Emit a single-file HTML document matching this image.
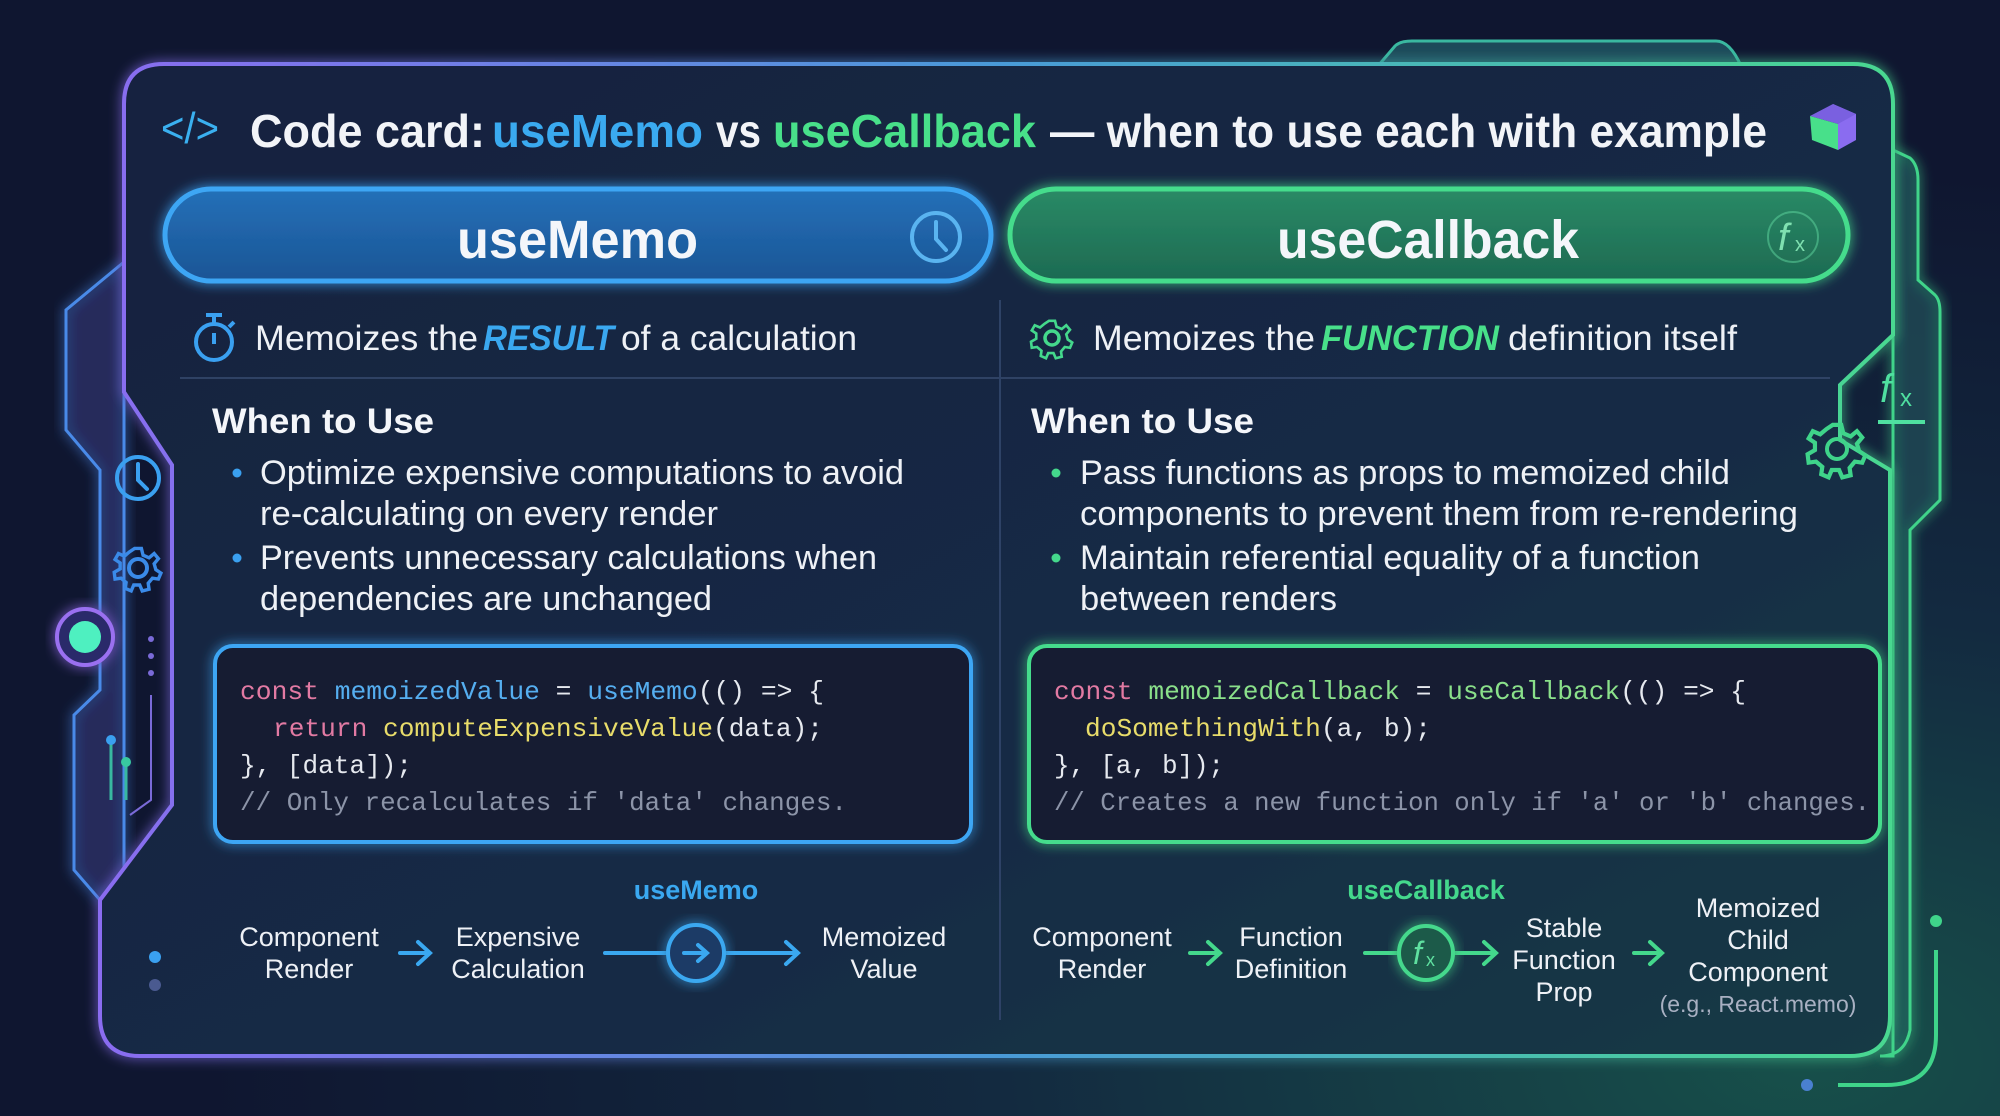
<!DOCTYPE html>
<html><head><meta charset="utf-8"><style>
html,body{margin:0;padding:0;background:#0f1630;}
svg{display:block}
text{font-family:"Liberation Sans",sans-serif;}
.m{font-family:"Liberation Mono",monospace;font-size:26px;}
</style></head><body>
<svg width="2000" height="1116" viewBox="0 0 2000 1116" xmlns="http://www.w3.org/2000/svg">
<defs>
<radialGradient id="bg1" cx="0.9" cy="0.95" r="0.8">
<stop offset="0" stop-color="#17504a"/><stop offset="0.5" stop-color="#132a40"/><stop offset="1" stop-color="#0f1630"/>
</radialGradient>
<linearGradient id="card" x1="0" y1="0" x2="1" y2="1">
<stop offset="0" stop-color="#18223f"/><stop offset="0.6" stop-color="#172a45"/><stop offset="1" stop-color="#163a45"/>
</linearGradient>
<linearGradient id="cardstroke" x1="0" y1="0" x2="1" y2="0">
<stop offset="0" stop-color="#8a6cf0"/><stop offset="0.5" stop-color="#4a9ad8"/><stop offset="1" stop-color="#48d890"/>
</linearGradient>
<linearGradient id="pb" x1="0" y1="0" x2="0" y2="1"><stop offset="0" stop-color="#2470b8"/><stop offset="1" stop-color="#1b5595"/></linearGradient>
<linearGradient id="pg" x1="0" y1="0" x2="0" y2="1"><stop offset="0" stop-color="#2a8a66"/><stop offset="1" stop-color="#1d6a52"/></linearGradient>
<filter id="glow" x="-20%" y="-20%" width="140%" height="140%"><feGaussianBlur stdDeviation="6" result="b"/><feMerge><feMergeNode in="b"/><feMergeNode in="SourceGraphic"/></feMerge></filter>
</defs>
<rect width="2000" height="1116" fill="url(#bg1)"/>

<!-- top tab -->
<path d="M1378,66 L1395,46 Q1400,41 1412,41 L1716,41 Q1730,41 1741,66 Z" fill="#1d4a5a" stroke="#3ab8a0" stroke-width="3"/>

<!-- left outer panel -->
<path d="M124,262 L66,310 L66,430 L100,470 L100,690 L74,715 L74,870 L100,900 L124,880 L124,262 Z" fill="#2a2d66" fill-opacity="0.55" stroke="#4a8ae8" stroke-width="3" filter="url(#glow)"/>
<!-- right outer panel -->
<path d="M1893,150 L1910,158 Q1918,165 1918,180 L1918,280 L1935,295 Q1940,300 1940,312 L1940,500 L1910,530 L1910,1030 Q1905,1056 1880,1056 L1893,1056 Z" fill="#1c4a55" fill-opacity="0.6" stroke="#3fd48a" stroke-width="3" filter="url(#glow)"/>

<!-- main card -->
<path d="M164,64 L1853,64 Q1893,64 1893,104 L1893,335 L1840,385 L1840,440 L1890,470 L1890,1016 Q1890,1056 1850,1056 L140,1056 Q100,1056 100,1016 L100,900 L172,805 L172,465 L124,392 L124,104 Q124,64 164,64 Z" fill="url(#card)" stroke="url(#cardstroke)" stroke-width="4" filter="url(#glow)"/>

<!-- left decorations -->
<circle cx="138" cy="478" r="21" fill="none" stroke="#3aa0f0" stroke-width="4"/>
<path d="M138,464 L138,480 L147,489" fill="none" stroke="#3aa0f0" stroke-width="4" stroke-linecap="round"/>
<g transform="translate(138,568)" fill="none" stroke="#3a8ae8" stroke-width="4">
<circle r="9"/><path d="M-4,-23 L4,-23 L6,-15 L13,-12 L19,-17 L24,-11 L19,-5 L21,2 L27,6 L24,13 L17,12 L12,18 L13,25 L5,27 L2,20 L-5,20 L-8,27 L-15,24 L-14,17 L-20,12 L-27,13 L-28,5 L-21,1 L-21,-6 L-27,-10 L-23,-17 L-16,-14 L-10,-19 Z" transform="scale(0.85)"/></g>
<circle cx="85" cy="637" r="28" fill="#2b2a6a" stroke="#9a70f0" stroke-width="4" filter="url(#glow)"/>
<circle cx="85" cy="637" r="16" fill="#4ef0c0"/>
<circle cx="151" cy="639" r="3" fill="#7a6ad8"/><circle cx="151" cy="656" r="3" fill="#7a6ad8"/><circle cx="151" cy="673" r="3" fill="#7a6ad8"/>
<path d="M151,695 L151,800 L130,815" fill="none" stroke="#7a6ad8" stroke-width="2"/>
<line x1="111" y1="743" x2="111" y2="800" stroke="#38b8a0" stroke-width="3"/><circle cx="111" cy="740" r="5" fill="#3aa0f0"/>
<line x1="126" y1="765" x2="126" y2="800" stroke="#38b8a0" stroke-width="3"/><circle cx="126" cy="762" r="5" fill="#38c8a0"/>
<circle cx="155" cy="957" r="6" fill="#3aa0f0"/><circle cx="155" cy="985" r="6" fill="#4a5a90"/>

<!-- right decorations -->
<text x="1880" y="402" font-size="40" font-style="italic" font-family="Liberation Serif,serif" fill="#4fe0a0">f</text>
<text x="1900" y="406" font-size="24" fill="#4fe0a0">x</text>
<line x1="1878" y1="422" x2="1925" y2="422" stroke="#4fe0a0" stroke-width="4"/>
<g transform="translate(1837,449)" fill="none" stroke="#3fd48a" stroke-width="4">
<circle r="10"/><path d="M-4,-23 L4,-23 L6,-15 L13,-12 L19,-17 L24,-11 L19,-5 L21,2 L27,6 L24,13 L17,12 L12,18 L13,25 L5,27 L2,20 L-5,20 L-8,27 L-15,24 L-14,17 L-20,12 L-27,13 L-28,5 L-21,1 L-21,-6 L-27,-10 L-23,-17 L-16,-14 L-10,-19 Z" transform="scale(1.05)"/></g>
<circle cx="1936" cy="921" r="6" fill="#3fd48a"/>
<path d="M1936,950 L1936,1035 Q1936,1085 1886,1085 L1838,1085" fill="none" stroke="#3fd48a" stroke-width="4"/>
<circle cx="1807" cy="1085" r="6" fill="#4a80d0"/>

<!-- title -->
<text x="161" y="143" font-size="44" fill="#3ab0f0" textLength="58" lengthAdjust="spacingAndGlyphs">&lt;/&gt;</text>
<text x="250" y="147" font-size="46" font-weight="bold" fill="#f2f4f8" textLength="235" lengthAdjust="spacingAndGlyphs">Code card:</text>
<text x="492" y="147" font-size="46" font-weight="bold" fill="#3aaaf0" textLength="211" lengthAdjust="spacingAndGlyphs">useMemo</text>
<text x="716" y="147" font-size="46" font-weight="bold" fill="#f2f4f8" textLength="45" lengthAdjust="spacingAndGlyphs">vs</text>
<text x="773" y="147" font-size="46" font-weight="bold" fill="#48e08a" textLength="263" lengthAdjust="spacingAndGlyphs">useCallback</text>
<text x="1050" y="147" font-size="46" font-weight="bold" fill="#f2f4f8" textLength="717" lengthAdjust="spacingAndGlyphs">— when to use each with example</text>
<!-- cube -->
<path d="M1833,104 L1856,114 L1856,140 L1838,150 L1838,124 Z" fill="#8a6cf0"/>
<path d="M1810,116 L1833,104 L1856,114 L1838,124 Z" fill="#7a60e0"/>
<path d="M1810,116 L1838,124 L1838,150 L1812,140 Z" fill="#48e08a"/>

<!-- pills -->
<rect x="165" y="189" width="826" height="92" rx="46" fill="url(#pb)" stroke="#3ea6f4" stroke-width="5" filter="url(#glow)"/>
<text x="457" y="258" font-size="54" font-weight="bold" fill="#f4f6fa" textLength="241" lengthAdjust="spacingAndGlyphs">useMemo</text>
<circle cx="936" cy="237" r="24" fill="none" stroke="#5ab4f0" stroke-width="4"/>
<path d="M936,222 L936,239 L946,250" fill="none" stroke="#5ab4f0" stroke-width="4" stroke-linecap="round"/>
<rect x="1010" y="189" width="838" height="92" rx="46" fill="url(#pg)" stroke="#44dc8c" stroke-width="5" filter="url(#glow)"/>
<text x="1277" y="258" font-size="54" font-weight="bold" fill="#f4f6fa" textLength="302" lengthAdjust="spacingAndGlyphs">useCallback</text>
<circle cx="1793" cy="237" r="25" fill="none" stroke="#5fd8a0" stroke-width="2" stroke-opacity="0.5"/>
<text x="1778" y="250" font-size="38" font-style="italic" font-family="Liberation Serif,serif" fill="#7fe0b0">f</text>
<text x="1795" y="251" font-size="20" fill="#7fe0b0">x</text>

<!-- dividers -->
<line x1="180" y1="378" x2="1830" y2="378" stroke="#3a4f74" stroke-width="2" stroke-opacity="0.7"/>
<line x1="1000" y1="300" x2="1000" y2="1020" stroke="#2e4266" stroke-width="2"/>

<!-- subtitles -->
<g fill="none" stroke="#3aa0f0" stroke-width="4">
<circle cx="214" cy="342" r="18"/><line x1="214" y1="324" x2="214" y2="316"/><line x1="206" y1="315" x2="222" y2="315"/><line x1="214" y1="333" x2="214" y2="344"/><line x1="229" y1="327" x2="234" y2="322"/></g>
<text x="255" y="350" font-size="35" fill="#eef1f6" textLength="223" lengthAdjust="spacingAndGlyphs">Memoizes the</text>
<text x="483" y="350" font-size="35" font-weight="bold" font-style="italic" fill="#3aa8f0" textLength="131" lengthAdjust="spacingAndGlyphs">RESULT</text>
<text x="621" y="350" font-size="35" fill="#eef1f6" textLength="236" lengthAdjust="spacingAndGlyphs">of a calculation</text>
<g transform="translate(1052,338)" fill="none" stroke="#44d88c" stroke-width="3.5">
<circle r="7"/><path d="M-4,-23 L4,-23 L6,-15 L13,-12 L19,-17 L24,-11 L19,-5 L21,2 L27,6 L24,13 L17,12 L12,18 L13,25 L5,27 L2,20 L-5,20 L-8,27 L-15,24 L-14,17 L-20,12 L-27,13 L-28,5 L-21,1 L-21,-6 L-27,-10 L-23,-17 L-16,-14 L-10,-19 Z" transform="scale(0.75)"/></g>
<text x="1093" y="350" font-size="35" fill="#eef1f6" textLength="222" lengthAdjust="spacingAndGlyphs">Memoizes the</text>
<text x="1321" y="350" font-size="35" font-weight="bold" font-style="italic" fill="#48e08a" textLength="178" lengthAdjust="spacingAndGlyphs">FUNCTION</text>
<text x="1508" y="350" font-size="35" fill="#eef1f6" textLength="229" lengthAdjust="spacingAndGlyphs">definition itself</text>

<!-- when to use -->
<text x="212" y="433" font-size="35" font-weight="bold" fill="#f4f6fa" textLength="222" lengthAdjust="spacingAndGlyphs">When to Use</text>
<text x="1031" y="433" font-size="35" font-weight="bold" fill="#f4f6fa" textLength="223" lengthAdjust="spacingAndGlyphs">When to Use</text>
<g font-size="34" fill="#eef1f6">
<circle cx="237" cy="473" r="4.5" fill="#3aa0f0"/><circle cx="237" cy="558" r="4.5" fill="#3aa0f0"/>
<text x="260" y="484" textLength="644" lengthAdjust="spacingAndGlyphs">Optimize expensive computations to avoid</text>
<text x="260" y="525" textLength="458" lengthAdjust="spacingAndGlyphs">re-calculating on every render</text>
<text x="260" y="569" textLength="617" lengthAdjust="spacingAndGlyphs">Prevents unnecessary calculations when</text>
<text x="260" y="610" textLength="452" lengthAdjust="spacingAndGlyphs">dependencies are unchanged</text>
<circle cx="1056" cy="473" r="4.5" fill="#44d88c"/><circle cx="1056" cy="558" r="4.5" fill="#44d88c"/>
<text x="1080" y="484" textLength="650" lengthAdjust="spacingAndGlyphs">Pass functions as props to memoized child</text>
<text x="1080" y="525" textLength="718" lengthAdjust="spacingAndGlyphs">components to prevent them from re-rendering</text>
<text x="1080" y="569" textLength="620" lengthAdjust="spacingAndGlyphs">Maintain referential equality of a function</text>
<text x="1080" y="610" textLength="257" lengthAdjust="spacingAndGlyphs">between renders</text>
</g>

<!-- code boxes -->
<rect x="215" y="646" width="756" height="196" rx="18" fill="#141b30" stroke="#3ea6f4" stroke-width="4" filter="url(#glow)"/>
<rect x="1029" y="646" width="851" height="196" rx="18" fill="#141b30" stroke="#44dc8c" stroke-width="4" filter="url(#glow)"/>
<g fill="#e6e9ef">
<text class="m" x="240" y="699" textLength="584" lengthAdjust="spacingAndGlyphs"><tspan fill="#e27aa3">const</tspan> <tspan fill="#55aef0">memoizedValue</tspan> = <tspan fill="#55aef0">useMemo</tspan>(() =&gt; {</text>
<text class="m" x="273" y="736" textLength="550" lengthAdjust="spacingAndGlyphs"><tspan fill="#e27aa3">return</tspan> <tspan fill="#e8dc6a">computeExpensiveValue</tspan>(data);</text>
<text class="m" x="240" y="773" textLength="172" lengthAdjust="spacingAndGlyphs">}, [data]);</text>
<text class="m" x="240" y="810" fill="#8c94a8" textLength="607" lengthAdjust="spacingAndGlyphs">// Only recalculates if 'data' changes.</text>
<text class="m" x="1054" y="699" textLength="692" lengthAdjust="spacingAndGlyphs"><tspan fill="#e27aa3">const</tspan> <tspan fill="#8ae08a">memoizedCallback</tspan> = <tspan fill="#8ae08a">useCallback</tspan>(() =&gt; {</text>
<text class="m" x="1085" y="736" textLength="346" lengthAdjust="spacingAndGlyphs"><tspan fill="#e8dc6a">doSomethingWith</tspan>(a, b);</text>
<text class="m" x="1054" y="773" textLength="170" lengthAdjust="spacingAndGlyphs">}, [a, b]);</text>
<text class="m" x="1054" y="810" fill="#8c94a8" textLength="816" lengthAdjust="spacingAndGlyphs">// Creates a new function only if 'a' or 'b' changes.</text>
</g>

<!-- flow -->
<g font-size="27" fill="#eef1f6" text-anchor="middle">
<text x="309" y="946">Component</text><text x="309" y="978">Render</text>
<text x="518" y="946">Expensive</text><text x="518" y="978">Calculation</text>
<text x="884" y="946">Memoized</text><text x="884" y="978">Value</text>
<text x="1102" y="946">Component</text><text x="1102" y="978">Render</text>
<text x="1291" y="946">Function</text><text x="1291" y="978">Definition</text>
<text x="1564" y="937">Stable</text><text x="1564" y="969">Function</text><text x="1564" y="1001">Prop</text>
<text x="1758" y="917">Memoized</text><text x="1758" y="949">Child</text><text x="1758" y="981">Component</text>
<text x="1758" y="1012" font-size="23" fill="#a8b0c2">(e.g., React.memo)</text>
<text x="696" y="899" font-weight="bold" fill="#3aa8f0">useMemo</text>
<text x="1426" y="899" font-weight="bold" fill="#44d88c">useCallback</text>
</g>
<g fill="none" stroke="#3aa8f0" stroke-width="4" stroke-linecap="round">
<path d="M400,953 L428,953 M418,942 L430,953 L418,964"/>
<line x1="605" y1="953" x2="668" y2="953"/>
<line x1="724" y1="953" x2="797" y2="953"/><path d="M786,942 L798,953 L786,964"/>
<circle cx="696" cy="953" r="28" fill="#1d3a66" filter="url(#glow)"/>
<path d="M684,953 L706,953 M698,945 L707,953 L698,961"/>
</g>
<g fill="none" stroke="#44d88c" stroke-width="4" stroke-linecap="round">
<path d="M1190,953 L1218,953 M1208,942 L1220,953 L1208,964"/>
<line x1="1365" y1="953" x2="1398" y2="953"/>
<line x1="1454" y1="953" x2="1494" y2="953"/><path d="M1484,942 L1496,953 L1484,964"/>
<path d="M1634,953 L1660,953 M1650,942 L1662,953 L1650,964"/>
<circle cx="1426" cy="953" r="27" fill="#1f5a4a" filter="url(#glow)"/>
</g>
<text x="1413" y="964" font-size="32" font-style="italic" font-family="Liberation Serif,serif" fill="#5fe0a0">f</text>
<text x="1426" y="966" font-size="18" fill="#5fe0a0">x</text>
</svg>
</body></html>
